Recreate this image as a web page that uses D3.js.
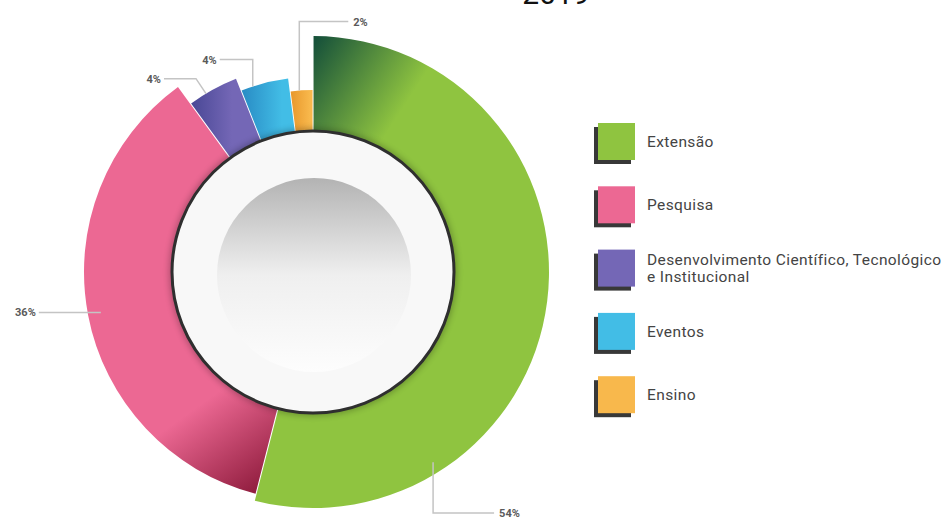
<!DOCTYPE html>
<html>
<head>
<meta charset="utf-8">
<script src="https://cdn.jsdelivr.net/npm/d3@7"></script>
<style>
  html, body { margin: 0; padding: 0; background: #fff; }
  svg { display: block; font-family: Roboto, "Noto Sans", sans-serif; }
</style>
</head>
<body>
<div id="chart"></div>
<script>
// data
var categories = ["Extensão", "Pesquisa", "Desenvolvimento Científico, Tecnológico|e Institucional", "Eventos", "Ensino"];
var shares = [54, 36, 4, 4, 2];
var pctLabels = ["54%", "36%", "4%", "4%", "2%"];
var title = "2019";

var width = 950, height = 520,
    cx = 313, cy = 272,
    innerR = 130,
    outerR = [236, 229, 208, 195, 182],  // each slice sticks out a different amount
    colors = ["#8fc440", "#ec6893", "#7467b6", "#42bde6", "#f8b84c"],
    darks = ["#17523a", "#8e1b3c", "#4a4896", "#2a8ec6", "#e99a2e"];

var svg = d3.select("#chart").append("svg")
    .attr("width", width)
    .attr("height", height);

var defs = svg.append("defs");

// gradients, dark at the leading edge of each slice (page coords)
var gradDirs = [
    [313, 45, 405, 105],
    [262, 492, 200, 405],
    [192, 110, 232, 110],
    [244, 100, 282, 100],
    [292, 100, 310, 100]
];
shares.forEach(function (d, i) {
    var g = gradDirs[i];
    var lg = defs.append("linearGradient")
        .attr("id", "sg" + i)
        .attr("gradientUnits", "userSpaceOnUse")
        .attr("x1", g[0] - cx).attr("y1", g[1] - cy)
        .attr("x2", g[2] - cx).attr("y2", g[3] - cy);
    lg.append("stop").attr("offset", 0).attr("stop-color", darks[i]);
    lg.append("stop").attr("offset", 1).attr("stop-color", colors[i]);
});

var bowl = defs.append("linearGradient")
    .attr("id", "bowl").attr("x1", 0).attr("y1", 0).attr("x2", 0).attr("y2", 1);
bowl.append("stop").attr("offset", 0).attr("stop-color", "#b3b3b3");
bowl.append("stop").attr("offset", 0.5).attr("stop-color", "#efefef");
bowl.append("stop").attr("offset", 1).attr("stop-color", "#fdfdfd");

var soft = defs.append("filter").attr("id", "soft")
    .attr("x", "-20%").attr("y", "-20%").attr("width", "140%").attr("height", "140%");
soft.append("feGaussianBlur").attr("stdDeviation", 3);

var pie = d3.pie().sort(null).value(function (d) { return d; });
var arcs = pie(shares);

var arc = d3.arc()
    .innerRadius(innerR)
    .outerRadius(function (d) { return outerR[d.index]; })
    .padAngle(0.004);

var ring = svg.append("g").attr("transform", "translate(" + cx + "," + cy + ")");

ring.selectAll("path.slice")
    .data(arcs)
  .enter().append("path")
    .attr("class", "slice")
    .attr("d", arc)
    .attr("fill", function (d) { return "url(#sg" + d.index + ")"; });

// inner plate
ring.append("circle")
    .attr("r", 144)
    .attr("fill", "#000")
    .attr("opacity", 0.25)
    .attr("filter", "url(#soft)");
ring.append("circle")
    .attr("r", 141)
    .attr("fill", "#f8f8f8")
    .attr("stroke", "#2f2f2f")
    .attr("stroke-width", 3);
ring.append("circle")
    .attr("cx", 1).attr("cy", 3)
    .attr("r", 97)
    .attr("fill", "url(#bowl)");

// leader lines + percentage labels
// [angle fraction inside slice, radius, elbow dx, elbow dy, tail dx, tail dy, text anchor]
var leaders = [
    [0.76, 225, 0, 0, 61, 0, "start"],
    [0.50, 216, 0, 0, -62, 0, "end"],
    [0.35, 208, -10, -15, -32, 0, "end"],
    [0.25, 195, 0, -27, -33, 0, "end"],
    [0.40, 182, 0, -69, 49, 0, "start"]
];

var lab = ring.append("g");
arcs.forEach(function (d, i) {
    var L = leaders[i],
        a = d.startAngle + (d.endAngle - d.startAngle) * L[0],
        x0 = Math.sin(a) * L[1],
        y0 = -Math.cos(a) * L[1];
    if (i === 0) { L[3] = 241 - y0; }  // drop down to the bottom edge
    var x1 = x0 + L[2], y1 = y0 + L[3],
        x2 = x1 + L[4], y2 = y1 + L[5];
    lab.append("path")
        .attr("d", "M" + x0 + "," + y0 + "L" + x1 + "," + y1 + "L" + x2 + "," + y2)
        .attr("fill", "none")
        .attr("stroke", "#c4c4c4")
        .attr("stroke-width", 1.5);
    lab.append("text")
        .attr("x", x2 + (L[6] === "start" ? 5 : -3))
        .attr("y", y2 + 4)
        .attr("text-anchor", L[6])
        .attr("font-size", 11)
        .attr("font-weight", 700)
        .attr("fill", "#5a5a5a")
        .text(pctLabels[i]);
});

// title, mostly off the top edge as in the source image
svg.append("text")
    .attr("x", 556)
    .attr("y", 4)
    .attr("text-anchor", "middle")
    .attr("font-size", 30)
    .attr("fill", "#111")
    .text(title);

// legend
var legend = svg.append("g").attr("transform", "translate(598,123)");
var item = legend.selectAll("g.item")
    .data(categories)
  .enter().append("g")
    .attr("class", "item")
    .attr("transform", function (d, i) { return "translate(0," + (i * 63.3) + ")"; });

item.append("rect")
    .attr("x", -4).attr("y", 4)
    .attr("width", 37).attr("height", 37)
    .attr("fill", "#383838");
item.append("rect")
    .attr("width", 37).attr("height", 37)
    .attr("fill", function (d, i) { return colors[i]; });

item.append("text")
    .attr("x", 49)
    .attr("font-size", 15.5)
    .attr("letter-spacing", 0.4)
    .attr("fill", "#444")
    .each(function (d) {
        var lines = d.split("|"),
            t = d3.select(this),
            y0 = 24 - (lines.length - 1) * 8.5;
        lines.forEach(function (s, k) {
            t.append("tspan").attr("x", 49).attr("y", y0 + k * 17).text(s);
        });
    });
</script>
</body>
</html>
